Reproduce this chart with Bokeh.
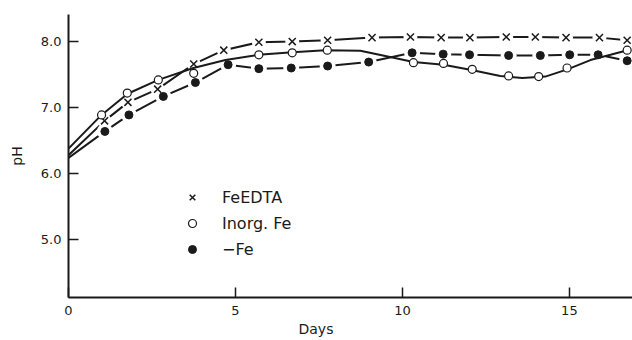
from bokeh.plotting import figure
from bokeh.models import (Range1d, FixedTicker, NumeralTickFormatter, Title,
                          Legend, LegendItem)
from bokeh.embed import file_html
from bokeh.resources import INLINE

# ---- data ----
start_day = 0.0

# FeEDTA (x markers, broken line)
edta_start_ph = 6.28
edta_days = [1.08, 1.78, 2.67, 3.75, 4.65, 5.70, 6.70, 7.76, 9.09, 10.24,
             11.16, 12.02, 13.11, 13.98, 14.90, 15.90, 16.73]
edta_ph = [6.80, 7.08, 7.28, 7.66, 7.87, 7.99, 8.00, 8.02, 8.06, 8.07,
           8.06, 8.06, 8.07, 8.07, 8.06, 8.06, 8.02]

# Inorg. Fe (open circles)
inorg_days = [0.99, 1.76, 2.69, 3.75, 5.70, 6.70, 7.75, 10.33, 11.23, 12.09,
              13.18, 14.08, 14.93, 16.73]
inorg_ph = [6.89, 7.22, 7.42, 7.52, 7.80, 7.83, 7.87, 7.68, 7.67, 7.58,
            7.48, 7.47, 7.60, 7.87]
# drawn smooth curve for Inorg. Fe (as traced on the picture)
inorg_curve_days = [0.00, 0.99, 1.77, 2.69, 3.74, 4.70, 5.69, 6.71, 7.69, 8.74,
                    9.70, 10.33, 11.23, 12.07, 12.93, 13.59, 14.28, 14.94,
                    15.63, 16.23, 16.74]
inorg_curve_ph = [6.38, 6.89, 7.21, 7.42, 7.60, 7.72, 7.80, 7.84, 7.87, 7.86,
                  7.76, 7.69, 7.65, 7.57, 7.48, 7.45, 7.47, 7.58, 7.72, 7.80,
                  7.87]

# -Fe (filled dots, broken line)
nofe_start_ph = 6.24
nofe_days = [1.09, 1.81, 2.84, 3.80, 4.78, 5.70, 6.67, 7.76, 8.99, 10.29,
             11.22, 12.01, 13.18, 14.13, 15.01, 15.86, 16.73]
nofe_ph = [6.64, 6.89, 7.17, 7.38, 7.65, 7.59, 7.60, 7.63, 7.69, 7.83,
           7.81, 7.80, 7.79, 7.79, 7.80, 7.80, 7.71]

x_ticks = [0, 5, 10, 15]
y_ticks = [5, 6, 7, 8]
labels = ["FeEDTA", "Inorg. Fe", "\u2212Fe"]

INK = "#1a1a1a"
FONT = "DejaVu Sans"

p = figure(width=632, height=340,
           x_range=Range1d(0, 16.89), y_range=Range1d(4.126, 8.41),
           output_backend="svg", toolbar_location=None,
           min_border_left=68, min_border_right=0,
           min_border_top=14, min_border_bottom=43)
p.outline_line_color = None
p.grid.visible = False
p.background_fill_color = "white"
p.border_fill_color = "white"

for ax in (p.xaxis[0], p.yaxis[0]):
    ax.axis_line_width = 2
    ax.axis_line_color = INK
    ax.major_tick_in = 10
    ax.major_tick_out = 0
    ax.major_tick_line_width = 1.5
    ax.major_tick_line_color = INK
    ax.minor_tick_line_color = None
    ax.major_label_text_font = FONT
    ax.major_label_text_font_size = "13px"
    ax.major_label_text_color = INK

p.xaxis.ticker = FixedTicker(ticks=x_ticks)
p.yaxis.ticker = FixedTicker(ticks=y_ticks)
p.yaxis.formatter = NumeralTickFormatter(format="0.0")
p.xaxis.major_label_standoff = 8
p.yaxis.major_label_standoff = 7

p.yaxis.axis_label = "pH"
p.yaxis.axis_label_text_font = FONT
p.yaxis.axis_label_text_font_size = "14px"
p.yaxis.axis_label_text_font_style = "normal"
p.yaxis.axis_label_text_color = INK
p.yaxis.axis_label_standoff = 13

days_title = Title(text="Days", align="left", offset=230, standoff=3,
                   text_font=FONT, text_font_size="14px",
                   text_font_style="normal", text_color=INK)
p.add_layout(days_title, "below")

# FeEDTA broken line
p.line([start_day] + edta_days, [edta_start_ph] + edta_ph,
       line_color=INK, line_width=2)
p.scatter(edta_days, edta_ph, marker="circle", size=14,
          fill_color="white", line_color=None)

# -Fe broken line
p.line([start_day] + nofe_days, [nofe_start_ph] + nofe_ph,
       line_color=INK, line_width=2)
p.scatter(nofe_days, nofe_ph, marker="circle", size=16,
          fill_color="white", line_color=None)

# Inorg. Fe smooth curve
p.line(inorg_curve_days, inorg_curve_ph, line_color=INK, line_width=2)

r_edta = p.scatter(edta_days, edta_ph, marker="x", size=10,
                   line_color=INK, line_width=1.5)
r_nofe = p.scatter(nofe_days, nofe_ph, marker="circle", size=8,
                   fill_color=INK, line_color=INK)
r_inorg = p.scatter(inorg_days, inorg_ph, marker="circle", size=8,
                    fill_color="white", line_color=INK, line_width=1.2)

legend = Legend(items=[LegendItem(label=labels[0], renderers=[r_edta]),
                       LegendItem(label=labels[1], renderers=[r_inorg]),
                       LegendItem(label=labels[2], renderers=[r_nofe])],
                location=(114, 38), border_line_color=None,
                background_fill_alpha=0, padding=0, margin=0, spacing=6,
                glyph_width=20, glyph_height=20, label_height=20,
                label_standoff=20, label_text_font=FONT,
                label_text_font_size="16px", label_text_color=INK)
p.add_layout(legend)

open("out.html", "w").write(file_html(p, INLINE))
